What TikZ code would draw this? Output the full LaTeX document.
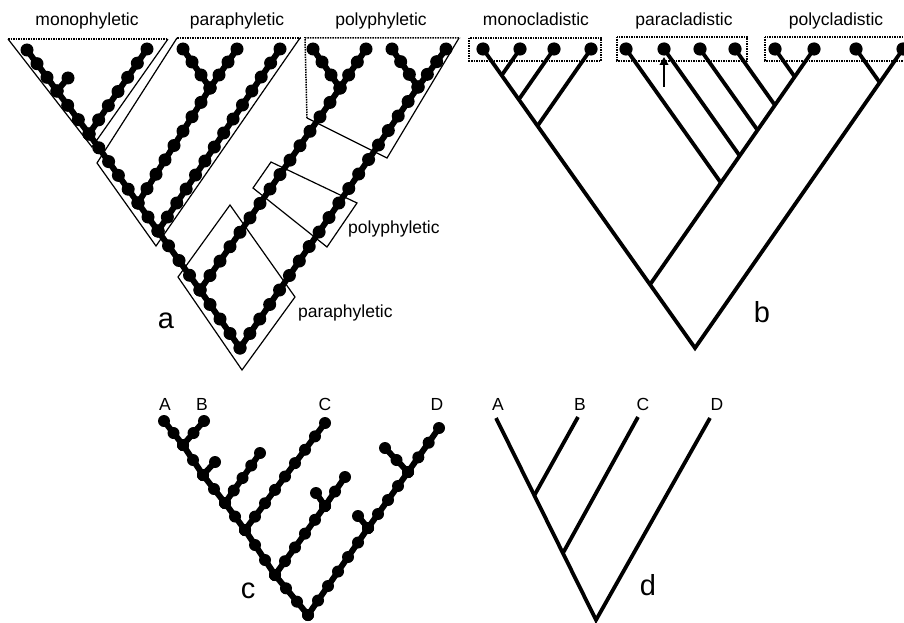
\documentclass[tikz,border=0pt]{standalone}
\usepackage{fontspec}
\setmainfont{Liberation Sans}
\usetikzlibrary{calc,arrows.meta}

\tikzset{
  beadline/.style={line width=6pt},
  clade/.style={line width=1.2pt},
  topline/.style={densely dotted, line width=1.5pt},
  branch/.style={line width=3.8pt},
  lbl/.style={font=\fontsize{17.5}{20}\selectfont, inner sep=0pt, anchor=base},
  panel/.style={font=\fontsize{29}{32}\selectfont, inner sep=0pt, anchor=base},
}
\def\beadr{6.5}
% string of beads from #1 to #2 in #3 steps
\newcommand{\beads}[3]{%
  \draw[beadline] (#1) -- (#2);
  \foreach \k in {0,...,#3}
    \fill ($(#1)!\k/#3!(#2)$) circle (\beadr);
}

\begin{document}
\begin{tikzpicture}[x=1pt,y=-1pt]
    \useasboundingbox (0,0) rectangle (904,623);

    % a: beaded tree
    \coordinate (R) at (240,348);
    \coordinate (M1) at (27,50);
    \coordinate (Ja3) at (57,91);
    \coordinate (S1) at (68,78);
    \coordinate (Ja6) at (89,134);
    \coordinate (N2) at (147,49);
    \coordinate (Ja11) at (138,203);
    \coordinate (PY) at (210,88);
    \coordinate (N3) at (183,49);
    \coordinate (N4) at (237,49);
    \coordinate (Ja13) at (158,231);
    \coordinate (N5) at (280,49);
    \coordinate (Ja17) at (200,290);
    \coordinate (QY) at (340,88);
    \coordinate (N6) at (313,49);
    \coordinate (N7) at (366,49);
    \coordinate (QZ) at (418,87);
    \coordinate (N8) at (392,49);
    \coordinate (N9) at (446,49);

    \beads{M1}{Ja3}{3}
    \beads{Ja3}{Ja6}{3}
    \beads{Ja6}{Ja11}{5}
    \beads{Ja11}{Ja13}{2}
    \beads{Ja13}{Ja17}{4}
    \beads{Ja17}{R}{4}
    \beads{Ja3}{S1}{1}
    \beads{Ja6}{N2}{6}
    \beads{Ja11}{PY}{8}
    \beads{PY}{N3}{3}
    \beads{PY}{N4}{3}
    \beads{Ja13}{N5}{13}
    \beads{Ja17}{QY}{14}
    \beads{QY}{N6}{3}
    \beads{QY}{N7}{3}
    \beads{R}{QZ}{18}
    \beads{QZ}{N8}{3}
    \beads{QZ}{N9}{3}

    % the groups
    \draw[topline] (8,39) -- (168,39);
    \draw[clade] (8,39) -- (92,147) -- (168,39);
    \draw[topline] (177,38) -- (300,38);
    \draw[clade] (300,38) -- (156,246) -- (97,163) -- (177,38);
    \draw[topline] (307,118) -- (305,38) -- (460,38);
    \draw[clade] (307,118) -- (387,158) -- (459,38);
    \draw[clade] (271,162) -- (357,203) -- (327,247) -- (253,188) -- cycle;
    \draw[clade] (230,205) -- (295,297) -- (242,370) -- (178,277) -- cycle;

    \node[lbl] (tmono) at (87,26) {monophyletic};
    \node[lbl] (tpara) at (237,26) {paraphyletic};
    \node[lbl] (tpoly) at (381,26) {polyphyletic};
    \node[lbl, anchor=base west] (tpoly2) at (348,233) {polyphyletic};
    \node[lbl, anchor=base west] (tpara2) at (298,317) {paraphyletic};
    \node[panel] (pa) at (166,328) {a};

    % b: cladogram
    \coordinate (Rb) at (695,348);
    \foreach \i/\x in {1/483,2/520,3/554,4/591,5/626,6/664,7/700,8/735,9/775,10/814,11/856,12/903}
        \coordinate (B\i) at (\x,49);
    \coordinate (Jb2) at (501.7,75.3);
    \coordinate (Jb3) at (518.8,99.5);
    \coordinate (Jb4) at (537.5,125.9);
    \coordinate (Jp) at (650,284.6);
    \coordinate (Jb5) at (720.9,182.8);
    \coordinate (Jb6) at (739.7,155.8);
    \coordinate (Jb7) at (757.5,130.1);
    \coordinate (Jb8) at (774.9,105.2);
    \coordinate (Jb9) at (794.7,76.8);
    \coordinate (Jb11) at (879.7,82.5);

    \draw[branch] (B1) -- (Rb) -- (B12);
    \draw[branch] (Jp) -- (B10);
    \foreach \i in {2,3,4,5,6,7,8,9,11}
        \draw[branch] (B\i) -- (Jb\i);
    \foreach \i in {1,...,12}
        \fill (B\i) circle (6.6);

    \draw[topline] (469,38) rectangle (601,61);
    \draw[topline] (617,37) rectangle (747,61);
    \draw[topline] (765,37) rectangle (915,61);

    \coordinate (arr) at (664,87);
    \draw[line width=2.6pt, -{Triangle[length=8pt,width=8.5pt]}, shorten >=8pt] (arr) -- (B6);

    \node[lbl] (tmonoc) at (536,26) {monocladistic};
    \node[lbl] (tparac) at (684,26) {paracladistic};
    \node[lbl] (tpolyc) at (836,26) {polycladistic};
    \node[panel] (pb) at (762,322) {b};

    % c: beaded tree A-D
    \def\beadr{6}
    \coordinate (Rc) at (308,615);
    \coordinate (c1) at (275,575);
    \coordinate (c2) at (245,530);
    \coordinate (c3) at (225,503);
    \coordinate (c4) at (203,475);
    \coordinate (c5) at (183,445);
    \coordinate (cA) at (164,421);
    \coordinate (cB) at (204,421);
    \coordinate (c4l) at (215,462);
    \coordinate (c3l) at (260,453);
    \coordinate (cC) at (325,423);
    \coordinate (c6) at (325,506);
    \coordinate (c6a) at (316,493);
    \coordinate (c6b) at (345,477);
    \coordinate (d1) at (368,528);
    \coordinate (d2) at (408,472);
    \coordinate (cD) at (439,428);
    \coordinate (d1l) at (358,516);
    \coordinate (d2l) at (385,448);

    \beads{Rc}{c1}{3}
    \beads{c1}{c2}{3}
    \beads{c2}{c3}{2}
    \beads{c3}{c4}{2}
    \beads{c4}{c5}{2}
    \beads{c5}{cA}{2}
    \beads{c5}{cB}{2}
    \beads{c4}{c4l}{1}
    \beads{c3}{c3l}{4}
    \beads{c2}{cC}{8}
    \beads{c1}{c6}{5}
    \beads{c6}{c6a}{1}
    \beads{c6}{c6b}{2}
    \beads{Rc}{d1}{6}
    \beads{d1}{d2}{4}
    \beads{d2}{cD}{3}
    \beads{d1}{d1l}{1}
    \beads{d2}{d2l}{2}

    \node[lbl] (lcA) at (165,410) {A};
    \node[lbl] (lcB) at (202,410) {B};
    \node[lbl] (lcC) at (325,410) {C};
    \node[lbl] (lcD) at (437,410) {D};
    \node[panel] (pc) at (248,598) {c};

    % d: plain tree A-D
    \coordinate (Rd) at (596,620);
    \coordinate (dA) at (496,418);
    \coordinate (dB) at (578,417);
    \coordinate (dC) at (638,417);
    \coordinate (dD) at (710,418);
    \coordinate (JAB) at (534,496);
    \coordinate (JABC) at (563,553);
    \draw[branch] (dA) -- (Rd) -- (dD);
    \draw[branch] (dB) -- (JAB);
    \draw[branch] (dC) -- (JABC);

    \node[lbl] (ldA) at (498,410) {A};
    \node[lbl] (ldB) at (580,410) {B};
    \node[lbl] (ldC) at (643,410) {C};
    \node[lbl] (ldD) at (717,410) {D};
    \node[panel] (pd) at (648,595) {d};
\end{tikzpicture}
\end{document}
